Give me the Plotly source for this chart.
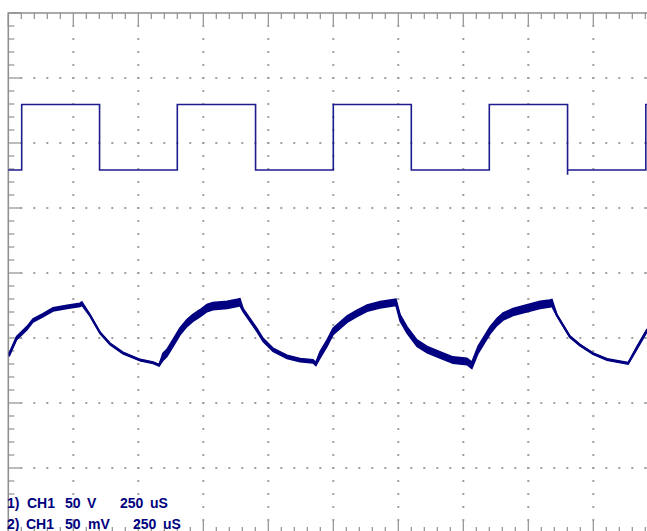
import plotly.graph_objects as go

# ---------------- data (time in microseconds, amplitude in divisions) ----------------
US_PER_DIV = 250
N_XDIV = 10
N_YDIV = 8

# channel 1 : square wave (transition times and levels)
sq_t = [0, 51.5, 51.5, 351, 351, 650, 650, 951, 951, 1250, 1250, 1550, 1550,
        1850, 1850, 2151, 2151, 2151, 2382, 2452, 2452, 2460]
sq_v = [1.585, 1.585, 2.592, 2.592, 1.585, 1.585, 2.592, 2.592, 1.585, 1.585, 2.592, 2.592, 1.585,
        1.585, 2.592, 2.592, 1.51, 1.585, 1.585, 1.585, 2.592, 2.592]

# channel 2 : exponential charge / discharge response
low_t = [3, 32, 71, 95, 133, 172, 226, 276, 283,
         314, 353, 391, 441, 507, 557, 580,
         595, 610, 633, 649, 660, 687, 710, 737, 764, 787, 842, 880, 891,
         903, 930, 957, 980, 1018, 1072, 1122, 1172, 1183,
         1199, 1226, 1249, 1276, 1303, 1341, 1380, 1430, 1480, 1491,
         1507, 1534, 1572, 1611, 1660, 1710, 1764, 1783,
         1807, 1834, 1853, 1880, 1903, 1941, 1995, 2045, 2083, 2091,
         2110, 2134, 2160, 2199, 2249, 2303, 2353, 2384,
         2418, 2457]
low_v = [-1.26, -1.00, -0.85, -0.73, -0.65, -0.56, -0.52, -0.49, -0.47,
         -0.65, -0.92, -1.09, -1.23, -1.34, -1.38, -1.42,
         -1.29, -1.23, -1.08, -0.98, -0.90, -0.77, -0.69, -0.62, -0.54, -0.51, -0.49, -0.46, -0.45,
         -0.57, -0.72, -0.88, -1.03, -1.18, -1.29, -1.34, -1.36, -1.40,
         -1.26, -1.08, -0.90, -0.80, -0.71, -0.62, -0.54, -0.49, -0.46, -0.45,
         -0.69, -0.88, -1.08, -1.18, -1.26, -1.34, -1.36, -1.42,
         -1.18, -1.00, -0.88, -0.75, -0.67, -0.60, -0.54, -0.49, -0.47, -0.46,
         -0.65, -0.80, -0.98, -1.11, -1.24, -1.33, -1.36, -1.39,
         -1.15, -0.88]
# half-width of the noise band (divisions)
low_noise = [0.025] * 9 + [0.012] * 7 + [0.055] * 13 + [0.025] * 9 + [0.05] * 10 + \
            [0.05] * 8 + [0.055] * 10 + [0.012] * 8 + [0.02] * 2

label_rows = [["1)", "CH1", "50", "V", "250", "uS"],
              ["2)", "CH1", "50", "mV", "250", "uS"]]

# ---------------- styling / geometry ----------------
W, H = 647, 531
PX_PER_DIV = 65.0
X0_PX, YC_PX = 8.3, 273.0
px_per_us = PX_PER_DIV / US_PER_DIV
x_range = [-X0_PX / px_per_us, (W - X0_PX) / px_per_us]
y_range = [-(H - YC_PX) / PX_PER_DIV, YC_PX / PX_PER_DIV]

GRID = "#8f8f8f"
DOT = "#a0a0a0"
NAVY = "#000080"
SQ = "#1c1c8e"

fig = go.Figure()

xmax = N_XDIV * US_PER_DIV
ytop, ybot = N_YDIV / 2, -N_YDIV / 2
mx = US_PER_DIV / 5
my = 0.2

# frame
fig.add_trace(go.Scatter(x=[0, 0, xmax, xmax, 0], y=[ybot, ytop, ytop, ybot, ybot],
                         mode="lines", line=dict(color=GRID, width=1.6), hoverinfo="skip"))

# ticks
tx, ty = [], []
minor_px, major_px = 6, 13
for k in range(N_XDIV * 5 + 1):
    x = k * mx
    L = (major_px if k % 5 == 0 else minor_px) / PX_PER_DIV
    tx += [x, x, None, x, x, None]
    ty += [ytop, ytop - L, None, ybot, ybot + L, None]
for k in range(N_YDIV * 5 + 1):
    y = ybot + k * my
    L = (major_px if k % 5 == 0 else minor_px) / px_per_us
    tx += [0, L, None, xmax, xmax - L, None]
    ty += [y, y, None, y, y, None]
fig.add_trace(go.Scatter(x=tx, y=ty, mode="lines", line=dict(color=GRID, width=1.2),
                         hoverinfo="skip", connectgaps=False))

# dotted graticule
dx, dy = [], []
for i in range(1, N_XDIV):
    for j in range(1, N_YDIV * 5):
        dx.append(i * US_PER_DIV)
        dy.append(ybot + j * my)
for j in range(1, N_YDIV):
    for k in range(1, N_XDIV * 5):
        dx.append(k * mx)
        dy.append(ybot + j)
fig.add_trace(go.Scatter(x=dx, y=dy, mode="markers",
                         marker=dict(color=DOT, size=2, symbol="square", line=dict(width=0)),
                         hoverinfo="skip"))

# channel 2 noise band
up = [v + n for v, n in zip(low_v, low_noise)]
dn = [v - n for v, n in zip(low_v, low_noise)]
fig.add_trace(go.Scatter(x=low_t, y=up, mode="lines", line=dict(color=NAVY, width=1.5),
                         hoverinfo="skip"))
fig.add_trace(go.Scatter(x=low_t, y=dn, mode="lines", line=dict(color=NAVY, width=1.5),
                         fill="tonexty", fillcolor=NAVY, hoverinfo="skip"))
fig.add_trace(go.Scatter(x=low_t, y=low_v, mode="lines", line=dict(color=NAVY, width=2),
                         hoverinfo="skip"))

# channel 1 square wave
fig.add_trace(go.Scatter(x=sq_t, y=sq_v, mode="lines", line=dict(color=SQ, width=1.6),
                         hoverinfo="skip"))

# labels
col_px = [[6, 26, 64, 86, 119, 149], [6, 25, 64, 87, 132, 162]]
row_px = [503, 524]
for r, row in enumerate(label_rows):
    for c, tok in enumerate(row):
        fig.add_annotation(x=col_px[r][c] / W, y=1 - row_px[r] / H, xref="paper", yref="paper",
                           xanchor="left", yanchor="middle", showarrow=False,
                           text="<b>" + tok + "</b>", borderpad=0,
                           font=dict(family="Liberation Sans, Arial", size=14, color=NAVY))

fig.update_layout(width=W, height=H, margin=dict(l=0, r=0, t=0, b=0),
                  paper_bgcolor="white", plot_bgcolor="white", showlegend=False,
                  xaxis=dict(range=x_range, visible=False, fixedrange=True),
                  yaxis=dict(range=y_range, visible=False, fixedrange=True))

fig.write_html("out.html", config={"displayModeBar": False, "staticPlot": True},
               post_script="document.body.style.margin='0';document.body.style.overflow='hidden';")
